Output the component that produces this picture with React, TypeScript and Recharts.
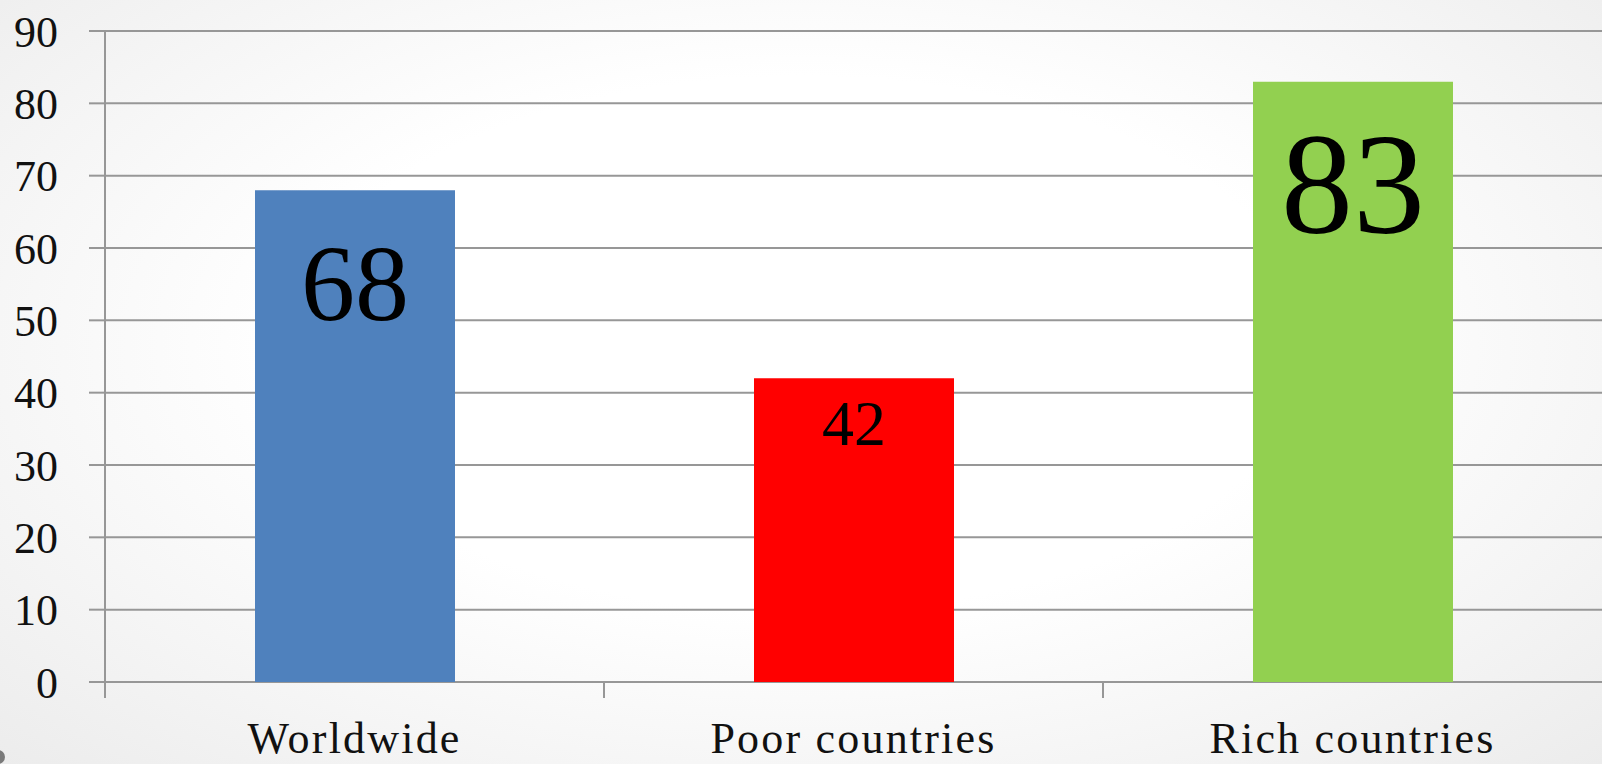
import React from 'react';
import { BarChart, Bar, XAxis, YAxis, CartesianGrid, Cell, LabelList } from 'recharts';

const categories = ['Worldwide', 'Poor countries', 'Rich countries'];
const shares = [68, 42, 83];
const yTicks = [0, 10, 20, 30, 40, 50, 60, 70, 80, 90];

const barColors = ['#4f81bd', '#ff0000', '#92d050'];
// value labels are drawn at different sizes, with the baseline measured down from the bar top
const labelStyles = [
  { fontSize: 108, dy: 130 },
  { fontSize: 64, dy: 67 },
  { fontSize: 144, dy: 151 },
];

const data = categories.map((name, i) => ({ name, value: shares[i] }));

const GRID = '#979797';
const FONT = '"Liberation Serif", "Times New Roman", serif';
const X_TICK_MARGIN = 42;

// category tick: label centred in the band plus a tick mark on the band's left edge
const CategoryTick = (props: any) => {
  const { x, y, payload } = props;
  const edge = x - (payload.offset || 0);
  const axisY = y - X_TICK_MARGIN;
  return (
    <g>
      <line x1={edge} x2={edge} y1={axisY} y2={axisY + 16} stroke={GRID} strokeWidth={2} />
      <text
        x={x}
        y={y + 29}
        textAnchor="middle"
        fontFamily={FONT}
        fontSize={44}
        letterSpacing={2.2}
        fill="#111"
      >
        {payload.value}
      </text>
    </g>
  );
};

const ValueLabel = (props: any) => {
  const { x, y, width, value, index } = props;
  const s = labelStyles[index];
  return (
    <text x={x + width / 2} y={y + s.dy} textAnchor="middle" fontFamily={FONT} fontSize={s.fontSize} fill="#000">
      {value}
    </text>
  );
};

export default function App() {
  return (
    <div
      style={{
        position: 'absolute',
        left: 0,
        top: 0,
        width: 1602,
        height: 764,
        overflow: 'hidden',
        background: 'radial-gradient(ellipse at 50% 45%, #ffffff 45%, #ececec 100%)',
      }}
    >
      <BarChart
        width={1602}
        height={764}
        data={data}
        margin={{ top: 31, right: 0, bottom: 0, left: 0 }}
        barSize={200}
      >
        <CartesianGrid vertical={false} stroke={GRID} strokeWidth={2} />
        <XAxis
          dataKey="name"
          height={82}
          axisLine={false}
          tickLine={false}
          tickSize={0}
          tickMargin={X_TICK_MARGIN}
          tick={<CategoryTick />}
          interval={0}
        />
        <YAxis
          width={105}
          domain={[0, 90]}
          ticks={yTicks}
          interval={0}
          axisLine={{ stroke: GRID, strokeWidth: 2 }}
          tickLine={{ stroke: GRID, strokeWidth: 2 }}
          tickSize={16}
          tickMargin={31}
          tick={{ fontFamily: FONT, fontSize: 44, fill: '#111' }}
        />
        <Bar dataKey="value" isAnimationActive={false}>
          {data.map((d, i) => (
            <Cell key={d.name} fill={barColors[i]} />
          ))}
          <LabelList dataKey="value" content={<ValueLabel />} />
        </Bar>
      </BarChart>
      <div
        style={{
          position: 'absolute',
          left: -9,
          top: 750,
          width: 14,
          height: 14,
          borderRadius: '50%',
          background: '#7a7a7a',
        }}
      />
    </div>
  );
}
